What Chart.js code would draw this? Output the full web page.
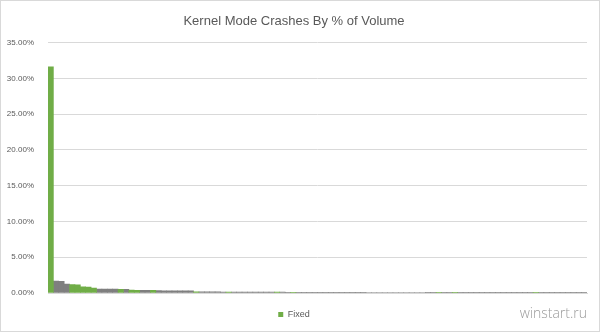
<!DOCTYPE html>
<html>
<head>
<meta charset="utf-8">
<script src="https://cdn.jsdelivr.net/npm/chart.js@4"></script>
<style>
  body { margin: 0; background: #fff; }
  .chart-box {
    width: 600px;
    height: 332px;
    box-sizing: border-box;
    border: 1px solid #d9d9d9;
    position: relative;
  }
</style>
</head>
<body>
<div class="chart-box">
  <canvas id="crashChart"></canvas>
</div>
<script>
// share of kernel mode crash volume per bucket, sorted descending (percent)
const crashShare = [
  31.6, 1.65, 1.62, 1.25, 1.18, 1.15, 0.85, 0.82, 0.70, 0.56,
  0.55, 0.55, 0.54, 0.53, 0.52, 0.40, 0.39, 0.38, 0.37, 0.36,
  0.33, 0.32, 0.32, 0.31, 0.31, 0.30, 0.30, 0.16, 0.15, 0.15,
  0.15, 0.15, 0.14, 0.14, 0.14, 0.14, 0.14, 0.13, 0.13, 0.13,
  0.13, 0.13, 0.12, 0.12, 0.09, 0.09, 0.09, 0.09, 0.09, 0.09,
  0.08, 0.08, 0.08, 0.08, 0.08, 0.08, 0.08, 0.08, 0.08, 0.07,
  0.07, 0.07, 0.07, 0.07, 0.07, 0.07, 0.07, 0.07, 0.07, 0.07,
  0.06, 0.06, 0.06, 0.06, 0.06, 0.06, 0.06, 0.06, 0.06, 0.06,
  0.06, 0.06, 0.05, 0.05, 0.05, 0.05, 0.05, 0.05, 0.05, 0.05,
  0.05, 0.05, 0.05, 0.05, 0.05, 0.05, 0.05, 0.05, 0.05, 0.05
];

// buckets whose crash has been fixed
const fixedBuckets = [0, 4, 5, 6, 7, 8, 13, 15, 16, 19, 27, 33, 42, 45, 72, 75, 90];

const bucketLabels = crashShare.map((_, i) => "Bucket " + (i + 1));
const yTicks = [0, 5, 10, 15, 20, 25, 30, 35];

const fixedData = crashShare.map((v, i) => (fixedBuckets.includes(i) ? v : null));
const openData = crashShare.map((v, i) => (fixedBuckets.includes(i) ? null : v));

// watermark in the bottom right corner
const watermark = {
  id: "watermark",
  afterDraw(chart) {
    const ctx = chart.ctx;
    ctx.save();
    ctx.font = "300 14px 'Open Sans', sans-serif";
    ctx.fillStyle = "#9b9b9b";
    ctx.textAlign = "right";
    ctx.textBaseline = "alphabetic";
    ctx.fillText("winstart.ru", 586, 317);
    ctx.restore();
  },
};

new Chart(document.getElementById("crashChart"), {
  type: "bar",
  data: {
    labels: bucketLabels,
    datasets: [
      {
        label: "Fixed",
        data: fixedData,
        backgroundColor: "#70ad47",
        barPercentage: 1,
        categoryPercentage: 1,
      },
      {
        label: "Open",
        data: openData,
        backgroundColor: "#7f7f7f",
        barPercentage: 1,
        categoryPercentage: 1,
      },
    ],
  },
  options: {
    responsive: true,
    maintainAspectRatio: false,
    animation: false,
    layout: { padding: { left: 0, right: 12, top: 0, bottom: 2 } },
    plugins: {
      title: {
        display: true,
        text: "Kernel Mode Crashes By % of Volume",
        color: "#595959",
        font: { family: "'Liberation Sans', sans-serif", size: 13, weight: "normal" },
        padding: { top: 13, bottom: 13 },
      },
      legend: {
        position: "bottom",
        labels: {
          filter: (item) => item.datasetIndex === 0,
          boxWidth: 5,
          boxHeight: 5,
          padding: 8,
          color: "#595959",
          font: { family: "'Liberation Sans', sans-serif", size: 9 },
        },
      },
      tooltip: { enabled: false },
    },
    scales: {
      x: {
        stacked: true,
        grid: { display: false },
        ticks: { display: false },
        border: { display: true, color: "#d9d9d9" },
        afterFit: (scale) => { scale.height = 9; },
      },
      y: {
        stacked: true,
        min: 0,
        max: 35,
        afterBuildTicks: (scale) => {
          scale.ticks = yTicks.map((v) => ({ value: v }));
        },
        grid: { color: "#d9d9d9", drawTicks: false },
        border: { display: false },
        ticks: {
          padding: 14,
          color: "#595959",
          font: { family: "'Liberation Sans', sans-serif", size: 8 },
          callback: (v) => v.toFixed(2) + "%",
        },
        afterFit: (scale) => { scale.width = 47; },
      },
    },
  },
  plugins: [watermark],
});
</script>
</body>
</html>
